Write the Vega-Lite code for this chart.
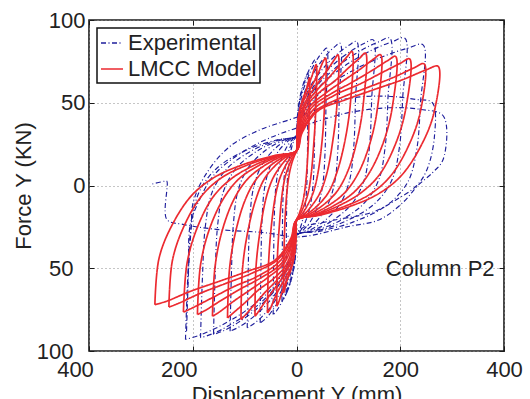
{
"$schema": "https://vega.github.io/schema/vega-lite/v6.json",
"width": 415, "height": 331,
"autosize": {"type": "none"},
"padding": {"left": 89, "top": 20, "right": 26, "bottom": 48},
"background": "white",
"config": {
  "view": {"stroke": "#1a1a1a", "strokeWidth": 1.6},
  "font": "Liberation Sans",
  "axis": {"labelFont": "Liberation Sans", "labelFontSize": 22, "labelColor": "#222", "titleFont": "Liberation Sans", "titleFontSize": 22, "titleFontWeight": "normal", "titleColor": "#222", "domain": false, "tickColor": "#1a1a1a", "tickSize": -5, "tickWidth": 1, "labelFlush": false, "labelOverlap": false},
  "legend": {"orient": "top-left", "offset": 8, "symbolType": "stroke", "symbolSize": 484, "symbolStrokeWidth": 1.4, "labelFont": "Liberation Sans", "labelFontSize": 22, "labelColor": "#222", "strokeColor": "#111", "strokeWidth": 1.5, "fillColor": "white", "padding": 3, "rowPadding": 3, "labelOffset": 4, "cornerRadius": 0}
},
"data": {"values": [
{"s":"E","k":1,"x":-20,"y":-65},{"s":"E","k":1,"x":-19.6,"y":-36.5},{"s":"E","k":1,"x":-19,"y":-12.8},{"s":"E","k":1,"x":-17.6,"y":3.4},{"s":"E","k":1,"x":-14.4,"y":14.8},{"s":"E","k":1,"x":-9,"y":23.4},{"s":"E","k":1,"x":-3.6,"y":28.1},{"s":"E","k":1,"x":0,"y":30},{"s":"E","k":1,"x":1.1,"y":39.1},{"s":"E","k":1,"x":4.4,"y":49.3},{"s":"E","k":1,"x":9.9,"y":57.8},{"s":"E","k":1,"x":15.4,"y":63.6},{"s":"E","k":1,"x":19.4,"y":66.6},{"s":"E","k":1,"x":22,"y":68},{"s":"E","k":1,"x":21.6,"y":38.6},{"s":"E","k":1,"x":20.9,"y":14.1},{"s":"E","k":1,"x":19.4,"y":-2.6},{"s":"E","k":1,"x":15.8,"y":-14.3},{"s":"E","k":1,"x":9.9,"y":-23.1},{"s":"E","k":1,"x":4,"y":-28},{"s":"E","k":1,"x":0,"y":-30},{"s":"E","k":1,"x":-1,"y":-38.7},{"s":"E","k":1,"x":-4,"y":-48},{"s":"E","k":1,"x":-9,"y":-55.7},{"s":"E","k":1,"x":-14,"y":-61},{"s":"E","k":1,"x":-17.6,"y":-63.8},{"s":"E","k":1,"x":-20,"y":-65},
{"s":"E","k":2,"x":-28,"y":-70},{"s":"E","k":2,"x":-27.4,"y":-40},{"s":"E","k":2,"x":-26.6,"y":-15},{"s":"E","k":2,"x":-24.6,"y":2},{"s":"E","k":2,"x":-20.2,"y":14},{"s":"E","k":2,"x":-12.6,"y":23},{"s":"E","k":2,"x":-5,"y":28},{"s":"E","k":2,"x":0,"y":30},{"s":"E","k":2,"x":1.8,"y":40.3},{"s":"E","k":2,"x":7.2,"y":52.9},{"s":"E","k":2,"x":16.2,"y":63.4},{"s":"E","k":2,"x":25.2,"y":70.5},{"s":"E","k":2,"x":31.7,"y":74.3},{"s":"E","k":2,"x":36,"y":76},{"s":"E","k":2,"x":35.3,"y":44.2},{"s":"E","k":2,"x":34.2,"y":17.7},{"s":"E","k":2,"x":31.7,"y":-0.3},{"s":"E","k":2,"x":25.9,"y":-13},{"s":"E","k":2,"x":16.2,"y":-22.6},{"s":"E","k":2,"x":6.5,"y":-27.9},{"s":"E","k":2,"x":0,"y":-30},{"s":"E","k":2,"x":-1.4,"y":-39.4},{"s":"E","k":2,"x":-5.6,"y":-50.2},{"s":"E","k":2,"x":-12.6,"y":-59.2},{"s":"E","k":2,"x":-19.6,"y":-65.3},{"s":"E","k":2,"x":-24.6,"y":-68.6},{"s":"E","k":2,"x":-28,"y":-70},
{"s":"E","k":3,"x":-45,"y":-78},{"s":"E","k":3,"x":-44.1,"y":-45.6},{"s":"E","k":3,"x":-42.8,"y":-18.6},{"s":"E","k":3,"x":-39.6,"y":-0.2},{"s":"E","k":3,"x":-32.4,"y":12.7},{"s":"E","k":3,"x":-20.3,"y":22.4},{"s":"E","k":3,"x":-8.1,"y":27.8},{"s":"E","k":3,"x":0,"y":30},{"s":"E","k":3,"x":2.9,"y":41.4},{"s":"E","k":3,"x":11.6,"y":56.1},{"s":"E","k":3,"x":26.1,"y":68.3},{"s":"E","k":3,"x":40.6,"y":76.6},{"s":"E","k":3,"x":51,"y":81},{"s":"E","k":3,"x":58,"y":83},{"s":"E","k":3,"x":56.8,"y":49.1},{"s":"E","k":3,"x":55.1,"y":20.9},{"s":"E","k":3,"x":51,"y":1.6},{"s":"E","k":3,"x":41.8,"y":-11.9},{"s":"E","k":3,"x":26.1,"y":-22.1},{"s":"E","k":3,"x":10.4,"y":-27.7},{"s":"E","k":3,"x":0,"y":-30},{"s":"E","k":3,"x":-2.3,"y":-40.6},{"s":"E","k":3,"x":-9,"y":-53.8},{"s":"E","k":3,"x":-20.3,"y":-64.8},{"s":"E","k":3,"x":-31.5,"y":-72.3},{"s":"E","k":3,"x":-39.6,"y":-76.2},{"s":"E","k":3,"x":-45,"y":-78},
{"s":"E","k":4,"x":-70,"y":-83},{"s":"E","k":4,"x":-68.6,"y":-49.1},{"s":"E","k":4,"x":-66.5,"y":-20.9},{"s":"E","k":4,"x":-61.6,"y":-1.6},{"s":"E","k":4,"x":-50.4,"y":11.9},{"s":"E","k":4,"x":-31.5,"y":22.1},{"s":"E","k":4,"x":-12.6,"y":27.7},{"s":"E","k":4,"x":0,"y":30},{"s":"E","k":4,"x":4.2,"y":41.8},{"s":"E","k":4,"x":16.8,"y":57.4},{"s":"E","k":4,"x":37.8,"y":70.4},{"s":"E","k":4,"x":58.8,"y":79.2},{"s":"E","k":4,"x":73.9,"y":83.9},{"s":"E","k":4,"x":84,"y":86},{"s":"E","k":4,"x":82.3,"y":51.2},{"s":"E","k":4,"x":79.8,"y":22.2},{"s":"E","k":4,"x":73.9,"y":2.5},{"s":"E","k":4,"x":60.5,"y":-11.4},{"s":"E","k":4,"x":37.8,"y":-21.9},{"s":"E","k":4,"x":15.1,"y":-27.7},{"s":"E","k":4,"x":0,"y":-30},{"s":"E","k":4,"x":-3.5,"y":-41.4},{"s":"E","k":4,"x":-14,"y":-56.1},{"s":"E","k":4,"x":-31.5,"y":-68.1},{"s":"E","k":4,"x":-49,"y":-76.6},{"s":"E","k":4,"x":-61.6,"y":-81},{"s":"E","k":4,"x":-70,"y":-83},
{"s":"E","k":5,"x":-95,"y":-86},{"s":"E","k":5,"x":-93.1,"y":-51.2},{"s":"E","k":5,"x":-90.3,"y":-22.2},{"s":"E","k":5,"x":-83.6,"y":-2.5},{"s":"E","k":5,"x":-68.4,"y":11.4},{"s":"E","k":5,"x":-42.8,"y":21.9},{"s":"E","k":5,"x":-17.1,"y":27.7},{"s":"E","k":5,"x":0,"y":30},{"s":"E","k":5,"x":5.8,"y":42},{"s":"E","k":5,"x":23.2,"y":57.9},{"s":"E","k":5,"x":52.2,"y":71.1},{"s":"E","k":5,"x":81.2,"y":80.1},{"s":"E","k":5,"x":102,"y":84.9},{"s":"E","k":5,"x":116,"y":87},{"s":"E","k":5,"x":113.7,"y":51.9},{"s":"E","k":5,"x":110.2,"y":22.7},{"s":"E","k":5,"x":102,"y":2.8},{"s":"E","k":5,"x":83.5,"y":-11.3},{"s":"E","k":5,"x":52.2,"y":-21.8},{"s":"E","k":5,"x":20.9,"y":-27.7},{"s":"E","k":5,"x":0,"y":-30},{"s":"E","k":5,"x":-4.8,"y":-41.8},{"s":"E","k":5,"x":-19,"y":-57.4},{"s":"E","k":5,"x":-42.8,"y":-70.4},{"s":"E","k":5,"x":-66.5,"y":-79.2},{"s":"E","k":5,"x":-83.6,"y":-83.8},{"s":"E","k":5,"x":-95,"y":-86},
{"s":"E","k":6,"x":-128,"y":-88},{"s":"E","k":6,"x":-125.4,"y":-52.6},{"s":"E","k":6,"x":-121.6,"y":-23.1},{"s":"E","k":6,"x":-112.6,"y":-3},{"s":"E","k":6,"x":-92.2,"y":11.1},{"s":"E","k":6,"x":-57.6,"y":21.7},{"s":"E","k":6,"x":-23,"y":27.6},{"s":"E","k":6,"x":0,"y":30},{"s":"E","k":6,"x":7.4,"y":42.1},{"s":"E","k":6,"x":29.6,"y":58.3},{"s":"E","k":6,"x":66.6,"y":71.8},{"s":"E","k":6,"x":103.6,"y":81},{"s":"E","k":6,"x":130.2,"y":85.8},{"s":"E","k":6,"x":148,"y":88},{"s":"E","k":6,"x":145,"y":52.6},{"s":"E","k":6,"x":140.6,"y":23.1},{"s":"E","k":6,"x":130.2,"y":3},{"s":"E","k":6,"x":106.6,"y":-11.1},{"s":"E","k":6,"x":66.6,"y":-21.7},{"s":"E","k":6,"x":26.6,"y":-27.6},{"s":"E","k":6,"x":0,"y":-30},{"s":"E","k":6,"x":-6.4,"y":-42.1},{"s":"E","k":6,"x":-25.6,"y":-58.3},{"s":"E","k":6,"x":-57.6,"y":-71.8},{"s":"E","k":6,"x":-89.6,"y":-81},{"s":"E","k":6,"x":-112.6,"y":-85.8},{"s":"E","k":6,"x":-128,"y":-88},
{"s":"E","k":7,"x":-160,"y":-90},{"s":"E","k":7,"x":-156.8,"y":-54},{"s":"E","k":7,"x":-152,"y":-24},{"s":"E","k":7,"x":-140.8,"y":-3.6},{"s":"E","k":7,"x":-115.2,"y":10.8},{"s":"E","k":7,"x":-72,"y":21.6},{"s":"E","k":7,"x":-28.8,"y":27.6},{"s":"E","k":7,"x":0,"y":30},{"s":"E","k":7,"x":9,"y":42.3},{"s":"E","k":7,"x":36,"y":58.8},{"s":"E","k":7,"x":81,"y":72.5},{"s":"E","k":7,"x":126,"y":81.9},{"s":"E","k":7,"x":158.4,"y":86.8},{"s":"E","k":7,"x":180,"y":89},{"s":"E","k":7,"x":176.4,"y":53.3},{"s":"E","k":7,"x":171,"y":23.6},{"s":"E","k":7,"x":158.4,"y":3.3},{"s":"E","k":7,"x":129.6,"y":-11},{"s":"E","k":7,"x":81,"y":-21.7},{"s":"E","k":7,"x":32.4,"y":-27.6},{"s":"E","k":7,"x":0,"y":-30},{"s":"E","k":7,"x":-8,"y":-42.4},{"s":"E","k":7,"x":-32,"y":-59.2},{"s":"E","k":7,"x":-72,"y":-73.2},{"s":"E","k":7,"x":-112,"y":-82.7},{"s":"E","k":7,"x":-140.8,"y":-87.8},{"s":"E","k":7,"x":-160,"y":-90},
{"s":"E","k":8,"x":-185,"y":-92},{"s":"E","k":8,"x":-181.3,"y":-55.4},{"s":"E","k":8,"x":-175.8,"y":-24.9},{"s":"E","k":8,"x":-162.8,"y":-4.2},{"s":"E","k":8,"x":-133.2,"y":10.5},{"s":"E","k":8,"x":-83.3,"y":21.5},{"s":"E","k":8,"x":-33.3,"y":27.6},{"s":"E","k":8,"x":0,"y":30},{"s":"E","k":8,"x":10.5,"y":42.3},{"s":"E","k":8,"x":41.8,"y":58.8},{"s":"E","k":8,"x":94,"y":72.5},{"s":"E","k":8,"x":146.3,"y":81.9},{"s":"E","k":8,"x":183.9,"y":86.8},{"s":"E","k":8,"x":209,"y":89},{"s":"E","k":8,"x":204.8,"y":53.3},{"s":"E","k":8,"x":198.6,"y":23.6},{"s":"E","k":8,"x":183.9,"y":3.3},{"s":"E","k":8,"x":150.5,"y":-11},{"s":"E","k":8,"x":94,"y":-21.7},{"s":"E","k":8,"x":37.6,"y":-27.6},{"s":"E","k":8,"x":0,"y":-30},{"s":"E","k":8,"x":-9.3,"y":-42.7},{"s":"E","k":8,"x":-37,"y":-60.1},{"s":"E","k":8,"x":-83.3,"y":-74.6},{"s":"E","k":8,"x":-129.5,"y":-84.5},{"s":"E","k":8,"x":-162.8,"y":-89.7},{"s":"E","k":8,"x":-185,"y":-92},
{"s":"E","k":9,"x":-214,"y":-93},{"s":"E","k":9,"x":-209.7,"y":-56.1},{"s":"E","k":9,"x":-203.3,"y":-25.4},{"s":"E","k":9,"x":-188.3,"y":-4.4},{"s":"E","k":9,"x":-154.1,"y":10.3},{"s":"E","k":9,"x":-96.3,"y":21.4},{"s":"E","k":9,"x":-38.5,"y":27.5},{"s":"E","k":9,"x":0,"y":30},{"s":"E","k":9,"x":12.2,"y":41.7},{"s":"E","k":9,"x":48.8,"y":57},{"s":"E","k":9,"x":109.8,"y":69.7},{"s":"E","k":9,"x":170.8,"y":78.4},{"s":"E","k":9,"x":214.7,"y":83},{"s":"E","k":9,"x":244,"y":85},{"s":"E","k":9,"x":239.1,"y":50.5},{"s":"E","k":9,"x":231.8,"y":21.8},{"s":"E","k":9,"x":214.7,"y":2.2},{"s":"E","k":9,"x":175.7,"y":-11.6},{"s":"E","k":9,"x":109.8,"y":-22},{"s":"E","k":9,"x":43.9,"y":-27.7},{"s":"E","k":9,"x":0,"y":-30},{"s":"E","k":9,"x":-10.7,"y":-42.9},{"s":"E","k":9,"x":-42.8,"y":-60.6},{"s":"E","k":9,"x":-96.3,"y":-75.3},{"s":"E","k":9,"x":-149.8,"y":-85.3},{"s":"E","k":9,"x":-188.3,"y":-90.6},{"s":"E","k":9,"x":-214,"y":-93},
{"s":"E","k":10,"x":-210,"y":-60},{"s":"E","k":10,"x":-203,"y":-25},{"s":"E","k":10,"x":-199,"y":-10},{"s":"E","k":10,"x":-173,"y":7.6},{"s":"E","k":10,"x":-128,"y":23.7},{"s":"E","k":10,"x":-70,"y":33.7},{"s":"E","k":10,"x":-13,"y":39.8},{"s":"E","k":10,"x":16,"y":43},{"s":"E","k":10,"x":90,"y":52},{"s":"E","k":10,"x":170,"y":54},{"s":"E","k":10,"x":230,"y":52},{"s":"E","k":10,"x":262,"y":50},{"s":"E","k":10,"x":266,"y":30},{"s":"E","k":10,"x":252,"y":10},{"s":"E","k":10,"x":232,"y":0},{"s":"E","k":10,"x":190,"y":-9},{"s":"E","k":10,"x":148,"y":-16},{"s":"E","k":10,"x":64,"y":-21.5},{"s":"E","k":10,"x":7,"y":-26.5},{"s":"E","k":10,"x":-15,"y":-40},
{"s":"E","k":11,"x":-212,"y":-88},{"s":"E","k":11,"x":-208,"y":-50},{"s":"E","k":11,"x":-205,"y":-24},{"s":"E","k":11,"x":-186,"y":-8},{"s":"E","k":11,"x":-160,"y":6},{"s":"E","k":11,"x":-115,"y":18},{"s":"E","k":11,"x":-57,"y":28},{"s":"E","k":11,"x":13,"y":36},{"s":"E","k":11,"x":100,"y":44},{"s":"E","k":11,"x":180,"y":47},{"s":"E","k":11,"x":238,"y":46},{"s":"E","k":11,"x":283,"y":42},{"s":"E","k":11,"x":283,"y":16},{"s":"E","k":11,"x":263,"y":8},{"s":"E","k":11,"x":234,"y":0},{"s":"E","k":11,"x":206,"y":-10},{"s":"E","k":11,"x":161,"y":-20.5},{"s":"E","k":11,"x":97,"y":-25},{"s":"E","k":11,"x":7,"y":-31},{"s":"E","k":11,"x":-65,"y":-28.4},{"s":"E","k":11,"x":-154,"y":-26.5},{"s":"E","k":11,"x":-219,"y":-23.5},{"s":"E","k":11,"x":-250,"y":-20.5},{"s":"E","k":11,"x":-250,"y":2.6},{"s":"E","k":11,"x":-254,"y":2.6},{"s":"E","k":11,"x":-282,"y":0.6},
{"s":"M","k":21,"x":-25,"y":-65},{"s":"M","k":21,"x":-24,"y":-39},{"s":"M","k":21,"x":-22,"y":-20},{"s":"M","k":21,"x":-18.5,"y":-4},{"s":"M","k":21,"x":-14.5,"y":6},{"s":"M","k":21,"x":-9.5,"y":13},{"s":"M","k":21,"x":-4,"y":18},{"s":"M","k":21,"x":0,"y":21},{"s":"M","k":21,"x":1,"y":32},{"s":"M","k":21,"x":4,"y":42},{"s":"M","k":21,"x":9,"y":48},{"s":"M","k":21,"x":14,"y":53},{"s":"M","k":21,"x":19,"y":58},{"s":"M","k":21,"x":23,"y":63},{"s":"M","k":21,"x":25,"y":65},{"s":"M","k":21,"x":24,"y":39},{"s":"M","k":21,"x":22,"y":20},{"s":"M","k":21,"x":18.5,"y":4},{"s":"M","k":21,"x":14.5,"y":-6},{"s":"M","k":21,"x":9.5,"y":-13},{"s":"M","k":21,"x":4,"y":-18},{"s":"M","k":21,"x":0,"y":-21},{"s":"M","k":21,"x":-1,"y":-32},{"s":"M","k":21,"x":-4,"y":-42},{"s":"M","k":21,"x":-9,"y":-48},{"s":"M","k":21,"x":-14,"y":-53},{"s":"M","k":21,"x":-19,"y":-58},{"s":"M","k":21,"x":-23,"y":-63},{"s":"M","k":21,"x":-25,"y":-65},
{"s":"M","k":22,"x":-38,"y":-73},{"s":"M","k":22,"x":-37,"y":-45},{"s":"M","k":22,"x":-33,"y":-24},{"s":"M","k":22,"x":-28,"y":-6},{"s":"M","k":22,"x":-22,"y":5},{"s":"M","k":22,"x":-14,"y":12.5},{"s":"M","k":22,"x":-6,"y":18},{"s":"M","k":22,"x":0,"y":21},{"s":"M","k":22,"x":1.5,"y":32.5},{"s":"M","k":22,"x":6,"y":45},{"s":"M","k":22,"x":13,"y":53},{"s":"M","k":22,"x":21,"y":59},{"s":"M","k":22,"x":28.5,"y":65},{"s":"M","k":22,"x":35,"y":71},{"s":"M","k":22,"x":38,"y":73},{"s":"M","k":22,"x":37,"y":45},{"s":"M","k":22,"x":33,"y":24},{"s":"M","k":22,"x":28,"y":6},{"s":"M","k":22,"x":22,"y":-5},{"s":"M","k":22,"x":14,"y":-12.5},{"s":"M","k":22,"x":6,"y":-18},{"s":"M","k":22,"x":0,"y":-21},{"s":"M","k":22,"x":-1.5,"y":-32.5},{"s":"M","k":22,"x":-6,"y":-45},{"s":"M","k":22,"x":-13,"y":-53},{"s":"M","k":22,"x":-21,"y":-59},{"s":"M","k":22,"x":-28.5,"y":-65},{"s":"M","k":22,"x":-35,"y":-71},{"s":"M","k":22,"x":-38,"y":-73},
{"s":"M","k":23,"x":-56,"y":-77},{"s":"M","k":23,"x":-54,"y":-48},{"s":"M","k":23,"x":-49,"y":-26},{"s":"M","k":23,"x":-41,"y":-7},{"s":"M","k":23,"x":-32.5,"y":4},{"s":"M","k":23,"x":-21,"y":12},{"s":"M","k":23,"x":-9,"y":18},{"s":"M","k":23,"x":0,"y":21},{"s":"M","k":23,"x":2,"y":33},{"s":"M","k":23,"x":8,"y":47},{"s":"M","k":23,"x":20,"y":55},{"s":"M","k":23,"x":31,"y":61},{"s":"M","k":23,"x":42,"y":68},{"s":"M","k":23,"x":51.5,"y":75},{"s":"M","k":23,"x":56,"y":77},{"s":"M","k":23,"x":54,"y":48},{"s":"M","k":23,"x":49,"y":26},{"s":"M","k":23,"x":41,"y":7},{"s":"M","k":23,"x":32.5,"y":-4},{"s":"M","k":23,"x":21,"y":-12},{"s":"M","k":23,"x":9,"y":-18},{"s":"M","k":23,"x":0,"y":-21},{"s":"M","k":23,"x":-2,"y":-33},{"s":"M","k":23,"x":-8,"y":-47},{"s":"M","k":23,"x":-20,"y":-55},{"s":"M","k":23,"x":-31,"y":-61},{"s":"M","k":23,"x":-42,"y":-68},{"s":"M","k":23,"x":-51.5,"y":-75},{"s":"M","k":23,"x":-56,"y":-77},
{"s":"M","k":24,"x":-80,"y":-79},{"s":"M","k":24,"x":-78,"y":-49},{"s":"M","k":24,"x":-70,"y":-27},{"s":"M","k":24,"x":-59,"y":-8},{"s":"M","k":24,"x":-46,"y":4},{"s":"M","k":24,"x":-30,"y":12},{"s":"M","k":24,"x":-13,"y":18},{"s":"M","k":24,"x":0,"y":21},{"s":"M","k":24,"x":3,"y":33},{"s":"M","k":24,"x":12,"y":47},{"s":"M","k":24,"x":28,"y":56},{"s":"M","k":24,"x":44,"y":63},{"s":"M","k":24,"x":60,"y":70},{"s":"M","k":24,"x":74,"y":76.5},{"s":"M","k":24,"x":80,"y":79},{"s":"M","k":24,"x":78,"y":49},{"s":"M","k":24,"x":70,"y":27},{"s":"M","k":24,"x":59,"y":8},{"s":"M","k":24,"x":46,"y":-4},{"s":"M","k":24,"x":30,"y":-12},{"s":"M","k":24,"x":13,"y":-18},{"s":"M","k":24,"x":0,"y":-21},{"s":"M","k":24,"x":-3,"y":-33},{"s":"M","k":24,"x":-12,"y":-47},{"s":"M","k":24,"x":-28,"y":-56},{"s":"M","k":24,"x":-44,"y":-63},{"s":"M","k":24,"x":-60,"y":-70},{"s":"M","k":24,"x":-74,"y":-76.5},{"s":"M","k":24,"x":-80,"y":-79},
{"s":"M","k":25,"x":-107,"y":-81},{"s":"M","k":25,"x":-104,"y":-50},{"s":"M","k":25,"x":-94,"y":-28},{"s":"M","k":25,"x":-79,"y":-9},{"s":"M","k":25,"x":-62,"y":4},{"s":"M","k":25,"x":-41,"y":12},{"s":"M","k":25,"x":-17,"y":18},{"s":"M","k":25,"x":0,"y":21},{"s":"M","k":25,"x":4,"y":33},{"s":"M","k":25,"x":16,"y":48},{"s":"M","k":25,"x":37.5,"y":57},{"s":"M","k":25,"x":59,"y":64},{"s":"M","k":25,"x":80,"y":71.5},{"s":"M","k":25,"x":98,"y":78},{"s":"M","k":25,"x":107,"y":81},{"s":"M","k":25,"x":104,"y":50},{"s":"M","k":25,"x":94,"y":28},{"s":"M","k":25,"x":79,"y":9},{"s":"M","k":25,"x":62,"y":-4},{"s":"M","k":25,"x":41,"y":-12},{"s":"M","k":25,"x":17,"y":-18},{"s":"M","k":25,"x":0,"y":-21},{"s":"M","k":25,"x":-4,"y":-33},{"s":"M","k":25,"x":-16,"y":-48},{"s":"M","k":25,"x":-37.5,"y":-57},{"s":"M","k":25,"x":-59,"y":-64},{"s":"M","k":25,"x":-80,"y":-71.5},{"s":"M","k":25,"x":-98,"y":-78},{"s":"M","k":25,"x":-107,"y":-81},
{"s":"M","k":26,"x":-133,"y":-80},{"s":"M","k":26,"x":-129,"y":-50},{"s":"M","k":26,"x":-117,"y":-27.5},{"s":"M","k":26,"x":-98,"y":-8},{"s":"M","k":26,"x":-77,"y":4},{"s":"M","k":26,"x":-50.5,"y":12},{"s":"M","k":26,"x":-21,"y":18},{"s":"M","k":26,"x":0,"y":21},{"s":"M","k":26,"x":5,"y":33},{"s":"M","k":26,"x":20,"y":48},{"s":"M","k":26,"x":47,"y":57},{"s":"M","k":26,"x":73,"y":63},{"s":"M","k":26,"x":100,"y":71},{"s":"M","k":26,"x":122,"y":77},{"s":"M","k":26,"x":133,"y":80},{"s":"M","k":26,"x":129,"y":50},{"s":"M","k":26,"x":117,"y":27.5},{"s":"M","k":26,"x":98,"y":8},{"s":"M","k":26,"x":77,"y":-4},{"s":"M","k":26,"x":50.5,"y":-12},{"s":"M","k":26,"x":21,"y":-18},{"s":"M","k":26,"x":0,"y":-21},{"s":"M","k":26,"x":-5,"y":-33},{"s":"M","k":26,"x":-20,"y":-48},{"s":"M","k":26,"x":-47,"y":-57},{"s":"M","k":26,"x":-73,"y":-63},{"s":"M","k":26,"x":-100,"y":-71},{"s":"M","k":26,"x":-122,"y":-77},{"s":"M","k":26,"x":-133,"y":-80},
{"s":"M","k":27,"x":-162,"y":-79},{"s":"M","k":27,"x":-157,"y":-49},{"s":"M","k":27,"x":-143,"y":-27},{"s":"M","k":27,"x":-120,"y":-8},{"s":"M","k":27,"x":-94,"y":4},{"s":"M","k":27,"x":-62,"y":12},{"s":"M","k":27,"x":-26,"y":18},{"s":"M","k":27,"x":0,"y":21},{"s":"M","k":27,"x":6.5,"y":33},{"s":"M","k":27,"x":24,"y":47},{"s":"M","k":27,"x":57,"y":56},{"s":"M","k":27,"x":89,"y":63},{"s":"M","k":27,"x":121.5,"y":70},{"s":"M","k":27,"x":149,"y":76.5},{"s":"M","k":27,"x":162,"y":79},{"s":"M","k":27,"x":157,"y":49},{"s":"M","k":27,"x":143,"y":27},{"s":"M","k":27,"x":120,"y":8},{"s":"M","k":27,"x":94,"y":-4},{"s":"M","k":27,"x":62,"y":-12},{"s":"M","k":27,"x":26,"y":-18},{"s":"M","k":27,"x":0,"y":-21},{"s":"M","k":27,"x":-6.5,"y":-33},{"s":"M","k":27,"x":-24,"y":-47},{"s":"M","k":27,"x":-57,"y":-56},{"s":"M","k":27,"x":-89,"y":-63},{"s":"M","k":27,"x":-121.5,"y":-70},{"s":"M","k":27,"x":-149,"y":-76.5},{"s":"M","k":27,"x":-162,"y":-79},
{"s":"M","k":28,"x":-191,"y":-78},{"s":"M","k":28,"x":-185,"y":-48},{"s":"M","k":28,"x":-168,"y":-26.5},{"s":"M","k":28,"x":-141,"y":-8},{"s":"M","k":28,"x":-111,"y":4},{"s":"M","k":28,"x":-73,"y":12},{"s":"M","k":28,"x":-31,"y":18},{"s":"M","k":28,"x":0,"y":21},{"s":"M","k":28,"x":8,"y":33},{"s":"M","k":28,"x":29,"y":47},{"s":"M","k":28,"x":67,"y":55.5},{"s":"M","k":28,"x":105,"y":62},{"s":"M","k":28,"x":143,"y":69},{"s":"M","k":28,"x":176,"y":75.5},{"s":"M","k":28,"x":191,"y":78},{"s":"M","k":28,"x":185,"y":48},{"s":"M","k":28,"x":168,"y":26.5},{"s":"M","k":28,"x":141,"y":8},{"s":"M","k":28,"x":111,"y":-4},{"s":"M","k":28,"x":73,"y":-12},{"s":"M","k":28,"x":31,"y":-18},{"s":"M","k":28,"x":0,"y":-21},{"s":"M","k":28,"x":-8,"y":-33},{"s":"M","k":28,"x":-29,"y":-47},{"s":"M","k":28,"x":-67,"y":-55.5},{"s":"M","k":28,"x":-105,"y":-62},{"s":"M","k":28,"x":-143,"y":-69},{"s":"M","k":28,"x":-176,"y":-75.5},{"s":"M","k":28,"x":-191,"y":-78},
{"s":"M","k":29,"x":-218,"y":-76.5},{"s":"M","k":29,"x":-211,"y":-47},{"s":"M","k":29,"x":-192,"y":-26},{"s":"M","k":29,"x":-161,"y":-7},{"s":"M","k":29,"x":-126,"y":4},{"s":"M","k":29,"x":-83,"y":12},{"s":"M","k":29,"x":-35,"y":18},{"s":"M","k":29,"x":0,"y":21},{"s":"M","k":29,"x":9,"y":33},{"s":"M","k":29,"x":33,"y":46},{"s":"M","k":29,"x":76,"y":55},{"s":"M","k":29,"x":120,"y":61},{"s":"M","k":29,"x":163.5,"y":68},{"s":"M","k":29,"x":201,"y":74},{"s":"M","k":29,"x":218,"y":76.5},{"s":"M","k":29,"x":211,"y":47},{"s":"M","k":29,"x":192,"y":26},{"s":"M","k":29,"x":161,"y":7},{"s":"M","k":29,"x":126,"y":-4},{"s":"M","k":29,"x":83,"y":-12},{"s":"M","k":29,"x":35,"y":-18},{"s":"M","k":29,"x":0,"y":-21},{"s":"M","k":29,"x":-9,"y":-33},{"s":"M","k":29,"x":-33,"y":-46},{"s":"M","k":29,"x":-76,"y":-55},{"s":"M","k":29,"x":-120,"y":-61},{"s":"M","k":29,"x":-163.5,"y":-68},{"s":"M","k":29,"x":-201,"y":-74},{"s":"M","k":29,"x":-218,"y":-76.5},
{"s":"M","k":30,"x":-246,"y":-73.5},{"s":"M","k":30,"x":-239,"y":-45},{"s":"M","k":30,"x":-216,"y":-24},{"s":"M","k":30,"x":-182,"y":-6},{"s":"M","k":30,"x":-143,"y":5},{"s":"M","k":30,"x":-93.5,"y":12.5},{"s":"M","k":30,"x":-39,"y":18},{"s":"M","k":30,"x":0,"y":21},{"s":"M","k":30,"x":10,"y":32.5},{"s":"M","k":30,"x":37,"y":45},{"s":"M","k":30,"x":86,"y":53},{"s":"M","k":30,"x":135,"y":59},{"s":"M","k":30,"x":184.5,"y":65},{"s":"M","k":30,"x":226,"y":71},{"s":"M","k":30,"x":246,"y":73.5},{"s":"M","k":30,"x":239,"y":45},{"s":"M","k":30,"x":216,"y":24},{"s":"M","k":30,"x":182,"y":6},{"s":"M","k":30,"x":143,"y":-5},{"s":"M","k":30,"x":93.5,"y":-12.5},{"s":"M","k":30,"x":39,"y":-18},{"s":"M","k":30,"x":0,"y":-21},{"s":"M","k":30,"x":-10,"y":-32.5},{"s":"M","k":30,"x":-37,"y":-45},{"s":"M","k":30,"x":-86,"y":-53},{"s":"M","k":30,"x":-135,"y":-59},{"s":"M","k":30,"x":-184.5,"y":-65},{"s":"M","k":30,"x":-226,"y":-71},{"s":"M","k":30,"x":-246,"y":-73.5},
{"s":"M","k":31,"x":-273,"y":-72},{"s":"M","k":31,"x":-265,"y":-44},{"s":"M","k":31,"x":-240,"y":-24},{"s":"M","k":31,"x":-202,"y":-6},{"s":"M","k":31,"x":-158,"y":5},{"s":"M","k":31,"x":-104,"y":12.5},{"s":"M","k":31,"x":-44,"y":18},{"s":"M","k":31,"x":0,"y":21},{"s":"M","k":31,"x":11,"y":32},{"s":"M","k":31,"x":41,"y":45},{"s":"M","k":31,"x":96,"y":52},{"s":"M","k":31,"x":150,"y":58},{"s":"M","k":31,"x":205,"y":64},{"s":"M","k":31,"x":251,"y":70},{"s":"M","k":31,"x":273,"y":72},{"s":"M","k":31,"x":265,"y":44},{"s":"M","k":31,"x":240,"y":24},{"s":"M","k":31,"x":202,"y":6},{"s":"M","k":31,"x":158,"y":-5},{"s":"M","k":31,"x":104,"y":-12.5},{"s":"M","k":31,"x":44,"y":-18},{"s":"M","k":31,"x":0,"y":-21},{"s":"M","k":31,"x":-11,"y":-32},{"s":"M","k":31,"x":-41,"y":-45},{"s":"M","k":31,"x":-96,"y":-52},{"s":"M","k":31,"x":-150,"y":-58},{"s":"M","k":31,"x":-205,"y":-64},{"s":"M","k":31,"x":-251,"y":-70},{"s":"M","k":31,"x":-273,"y":-72}
]},
"layer": [
  {
    "transform": [{"filter": "datum.s == 'E'"}],
    "mark": {"type": "line", "strokeWidth": 1.15, "interpolate": "catmull-rom"},
    "encoding": {
      "x": {"field": "x", "type": "quantitative", "scale": {"domain": [-400, 400], "nice": false, "zero": false},
        "axis": {"orient": "bottom", "values": [-400, -200, 0, 200, 400], "labelExpr": "format(abs(datum.value), 'd')", "labelOffset": {"condition": {"test": "datum.value < 0", "value": -14}, "value": 0}, "title": "Displacement Y (mm)", "grid": true, "gridDash": [1, 3], "gridColor": "#8c8c8c", "labelPadding": 13, "titlePadding": 4}},
      "y": {"field": "y", "type": "quantitative", "scale": {"domain": [-100, 100], "nice": false, "zero": false},
        "axis": {"orient": "left", "values": [-100, -50, 0, 50, 100], "labelExpr": "format(abs(datum.value), 'd')", "labelPadding": {"condition": {"test": "datum.value < 0", "value": 21}, "value": 9}, "title": "Force Y (KN)", "grid": true, "gridDash": [1, 3], "gridColor": "#8c8c8c", "titlePadding": 1}},
      "detail": {"field": "k", "type": "nominal"},
      "order": {"value": null},
      "color": {"field": "s", "type": "nominal", "scale": {"domain": ["E", "M"], "range": ["#1f1f9c", "#ec2a30"]}, "legend": {"title": null, "labelExpr": "datum.label == 'E' ? 'Experimental' : 'LMCC Model'"}},
      "strokeDash": {"field": "s", "type": "nominal", "scale": {"domain": ["E", "M"], "range": [[5, 2.5, 1, 2.5], [1, 0]]}, "legend": {"title": null, "labelExpr": "datum.label == 'E' ? 'Experimental' : 'LMCC Model'"}}
    }
  },
  {
    "transform": [{"filter": "datum.s == 'M'"}],
    "mark": {"type": "line", "strokeWidth": 1.7, "interpolate": "catmull-rom"},
    "encoding": {
      "x": {"field": "x", "type": "quantitative", "scale": {"domain": [-400, 400], "nice": false, "zero": false},
        "axis": {"orient": "top", "values": [-400, -200, 0, 200, 400], "labels": false, "title": null, "grid": false}},
      "y": {"field": "y", "type": "quantitative", "scale": {"domain": [-100, 100], "nice": false, "zero": false},
        "axis": {"orient": "right", "values": [-100, -50, 0, 50, 100], "labels": false, "title": null, "grid": false}},
      "detail": {"field": "k", "type": "nominal"},
      "order": {"value": null},
      "color": {"field": "s", "type": "nominal", "scale": {"domain": ["E", "M"], "range": ["#1f1f9c", "#ec2a30"]}, "legend": {"title": null, "labelExpr": "datum.label == 'E' ? 'Experimental' : 'LMCC Model'"}},
      "strokeDash": {"field": "s", "type": "nominal", "scale": {"domain": ["E", "M"], "range": [[5, 2.5, 1, 2.5], [1, 0]]}, "legend": {"title": null, "labelExpr": "datum.label == 'E' ? 'Experimental' : 'LMCC Model'"}}
    }
  },
  {
    "data": {"values": [{"label": "Column P2"}]},
    "mark": {"type": "text", "font": "Liberation Sans", "fontSize": 22, "fill": "#222", "align": "center", "baseline": "middle"},
    "encoding": {
      "x": {"datum": 277, "type": "quantitative", "axis": null},
      "y": {"datum": -50.6, "type": "quantitative", "axis": null},
      "text": {"field": "label", "type": "nominal"}
    }
  }
],
"resolve": {"axis": {"x": "independent", "y": "independent"}}
}
